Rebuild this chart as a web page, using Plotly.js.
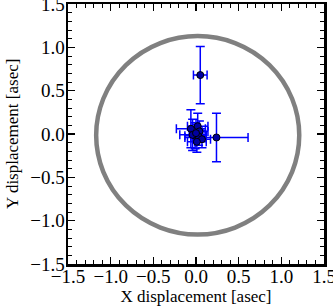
<!DOCTYPE html>
<html>
<head>
<meta charset="utf-8">
<script src="https://cdn.plot.ly/plotly-3.0.1.min.js"></script>
<style>html,body{margin:0;padding:0;background:#fff;}#chart{width:333px;height:308px;}</style>
</head>
<body>
<div id="chart"></div>
<script>
const xDisp = [0.05, 0.24, -0.06, 0.02, 0.04, -0.01, 0.03, 0.07, -0.04, 0.00, 0.01];
const yDisp = [0.68, -0.04, 0.06, 0.09, 0.03, -0.02, -0.03, -0.06, -0.01, 0.01, -0.09];
const xErr  = [0.08, 0.37, 0.17, 0.12, 0.10, 0.12, 0.09, 0.10, 0.15, 0.08, 0.11];
const yErr  = [0.33, 0.28, 0.22, 0.15, 0.12, 0.15, 0.10, 0.10, 0.18, 0.10, 0.12];
const circleBox = {x0: -1.17, x1: 1.21, y0: -1.16, y1: 1.13};
const xTitle = 'X displacement [asec]';
const yTitle = 'Y displacement [asec]';

const trace = {
  x: xDisp, y: yDisp, type: 'scatter', mode: 'markers',
  marker: {color: '#0000a0', size: 7, line: {color: '#000000', width: 1}},
  error_x: {type: 'data', array: xErr, visible: true, color: '#0000ff', thickness: 1.5, width: 4.5},
  error_y: {type: 'data', array: yErr, visible: true, color: '#0000ff', thickness: 1.5, width: 4.5},
  hoverinfo: 'none'
};

const serif = 'Liberation Serif, serif';
const axisCommon = {
  range: [-1.5, 1.5], dtick: 0.5, tick0: 0, tickformat: '.1f',
  ticks: 'inside', ticklen: 7, tickwidth: 1.5, tickcolor: '#000',
  showline: true, linecolor: '#000', linewidth: 2.5, mirror: 'allticks',
  showgrid: false, zeroline: false, ticklabeloverflow: 'allow',
  tickfont: {family: serif, size: 19, color: '#000'},
  minor: {dtick: 0.1, ticks: 'inside', ticklen: 4, tickwidth: 1, tickcolor: '#000', showgrid: false}
};

const layout = {
  width: 333, height: 308,
  margin: {l: 68, r: 9, t: 4, b: 44},
  paper_bgcolor: '#fff', plot_bgcolor: '#fff',
  showlegend: false,
  xaxis: Object.assign({}, axisCommon, {
    ticklabelstandoff: -6,
    title: {text: xTitle, font: {family: serif, size: 17, color: '#000'}, standoff: 0}
  }),
  yaxis: Object.assign({}, axisCommon, {
    ticklabelstandoff: -3
  }),
  annotations: [{
    text: yTitle, xref: 'paper', yref: 'paper', x: 0, y: 0.5,
    xanchor: 'center', yanchor: 'middle', xshift: -56, textangle: -90,
    showarrow: false, font: {family: serif, size: 17, color: '#000'}
  }],
  shapes: [{
    type: 'circle', xref: 'x', yref: 'y',
    x0: circleBox.x0, x1: circleBox.x1, y0: circleBox.y0, y1: circleBox.y1,
    line: {color: '#808080', width: 4.5}, layer: 'below'
  }]
};

Plotly.newPlot('chart', [trace], layout, {staticPlot: true, displayModeBar: false});
</script>
</body>
</html>
